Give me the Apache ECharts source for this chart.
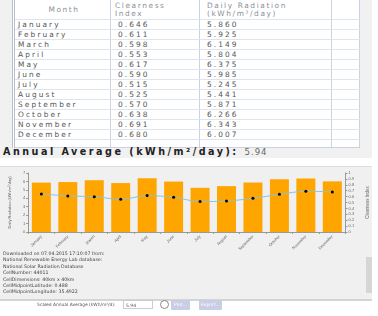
<!DOCTYPE html>
<html>
<head>
<meta charset="utf-8">
<script src="https://cdn.jsdelivr.net/npm/echarts@6/dist/echarts.min.js"></script>
<style>
  html, body { margin: 0; padding: 0; }
  body { width: 378px; height: 316px; background: #fff; position: relative; overflow: hidden;
         font-family: "DejaVu Sans", sans-serif; color: #555; }
  .top { position: absolute; left: 0; top: 0; width: 372px; height: 158px; background: #f1f1f1; }
  table.rad { position: absolute; left: 12px; top: 0; width: 348px; border-collapse: collapse; table-layout: fixed;
              background: #fff; border-left: 3px double #b8c0cc; font-size: 7.4px; letter-spacing: 2.1px; }
  table.rad td { border-right: 1px solid #c9d3e0; border-bottom: 1px solid #dfe5ee; height: 9px;
                 padding: 0 0 0 3px; line-height: 9px; white-space: nowrap; overflow: hidden; }
  table.rad tr.h td { height: 19px; line-height: 7.5px; color: #8a8f99; font-size: 7.4px; letter-spacing: 1.6px; }
  table.rad tr.tail td { height: 7px; border-bottom: 1px solid #c9d3e0; }
  .avg { position: absolute; left: 3px; top: 146px; font-size: 9.6px; font-weight: bold; color: #222;
         letter-spacing: 2.5px; white-space: nowrap; }
  .avg span { font-weight: normal; color: #666; letter-spacing: 1px; font-size: 8.5px; }
  .panel { position: absolute; left: 0; top: 166px; width: 372px; height: 132px; background: #f0f0f0;
           border-top: 1px solid #ddd; border-bottom: 2px solid #d4d4d4; }
  #chart { position: absolute; left: 0; top: 160px; width: 378px; height: 95px; }
  .info { position: absolute; left: 3px; top: 251px; font-size: 4.7px; line-height: 6.4px; color: #444;
          white-space: pre; letter-spacing: 0; }
  .scroll { position: absolute; left: 366px; top: 257px; width: 6px; height: 36px; background: #d6d6d6; }
  .bottom { position: absolute; top: 302px; left: 37px; font-size: 4.4px; color: #555; white-space: nowrap; }
  .inp { position: absolute; left: 123px; top: 300px; width: 30px; height: 9px; background: #fff;
         border: 1px solid #ccc; font-size: 4.5px; line-height: 9px; padding-left: 2px; box-sizing: border-box; }
  .ico { position: absolute; left: 160px; top: 300px; width: 7px; height: 7px; border: 1px solid #888;
         border-radius: 50%; }
  .btn { position: absolute; top: 300px; height: 10px; background: #c9cde6; color: #fff; font-size: 4.5px;
         line-height: 10px; text-align: center; border-radius: 1px; }
</style>
</head>
<body>
<div class="top"></div>
<table class="rad" id="tbl"></table>
<div class="avg">Annual Average (kWh/m²/day): <span id="avgv"></span></div>
<div class="panel"></div>
<div id="chart"></div>
<div class="info">Downloaded on 07.04.2015 17:10:07 from:
National Renewable Energy Lab database:
National Solar Radiation Database
CellNumber: 44011
CellDimensions: 40km x 40km
CellMidpointLatitude: 0.488
CellMidpointLongitude: 35.4922</div>
<div class="scroll"></div>
<div class="bottom">Scaled Annual Average (kWh/m²/d):</div>
<div class="inp">5.94</div>
<div class="ico"></div>
<div class="btn" style="left:171px;width:19px;">Plot...</div>
<div class="btn" style="left:199px;width:23px;">Export...</div>
<script>
const months = ["January", "February", "March", "April", "May", "June", "July",
  "August", "September", "October", "November", "December"];
const clearness = [0.646, 0.611, 0.598, 0.553, 0.617, 0.590, 0.515, 0.525, 0.570, 0.638, 0.691, 0.680];
const radiation = [5.860, 5.925, 6.149, 5.804, 6.375, 5.985, 5.245, 5.441, 5.871, 6.266, 6.343, 6.007];
const annualAverage = "5.94";

// table
let html = '<tr class="h"><td style="width:92px;text-align:center">Month</td>' +
  '<td style="width:84px;padding-left:4px">Clearness<br>Index</td>' +
  '<td style="width:124px;padding-left:7px">Daily Radiation<br>(kWh/m²/day)</td><td></td></tr>';
months.forEach((m, i) => {
  html += '<tr><td>' + m + '</td><td style="padding-left:7px">' + clearness[i].toFixed(3) +
    '</td><td style="padding-left:7px">' + radiation[i].toFixed(3) + '</td><td></td></tr>';
});
html += '<tr class="tail"><td></td><td></td><td></td><td></td></tr>';
document.getElementById("tbl").innerHTML = html;
document.getElementById("avgv").textContent = annualAverage;

let myChart = echarts.init(document.getElementById("chart"));
myChart.setOption({
  animation: false,
  grid: { left: 21, right: 28, top: 13, height: 59 },
  xAxis: {
    type: "category",
    data: months,
    axisLine: { lineStyle: { color: "#999" } },
    axisTick: { show: true, length: 2, lineStyle: { color: "#999" } },
    axisLabel: { rotate: 45, fontSize: 4, color: "#666", margin: 4, interval: 0 }
  },
  yAxis: [
    {
      type: "value", min: 0, max: 7, interval: 1,
      name: "Daily Radiation (kWh/m²/day)", nameLocation: "middle", nameGap: 9,
      nameTextStyle: { fontSize: 4, color: "#666" },
      axisLine: { show: true, lineStyle: { color: "#999" } },
      axisTick: { show: true, length: 2, lineStyle: { color: "#999" } },
      axisLabel: { fontSize: 4, color: "#666", margin: 3 },
      splitLine: { show: false }
    },
    {
      type: "value", min: 0, max: 1, interval: 0.1,
      name: "Clearness Index", nameLocation: "middle", nameGap: 15,
      nameTextStyle: { fontSize: 4.5, color: "#666" },
      axisLine: { show: true, lineStyle: { color: "#999" } },
      axisTick: { show: true, length: 2, lineStyle: { color: "#999" } },
      axisLabel: { fontSize: 4, color: "#666", margin: 3,
        formatter: v => (Math.round(v * 10) / 10).toString() },
      splitLine: { show: false }
    }
  ],
  series: [
    {
      type: "bar", data: radiation, barWidth: 19,
      itemStyle: { color: "#ffa500" }
    },
    {
      type: "line", yAxisIndex: 1, data: clearness, smooth: 0.3,
      symbol: "circle", symbolSize: 3,
      lineStyle: { color: "#8cc2dc", width: 1 },
      itemStyle: { color: "#000" }
    }
  ]
});
</script>
</body>
</html>
